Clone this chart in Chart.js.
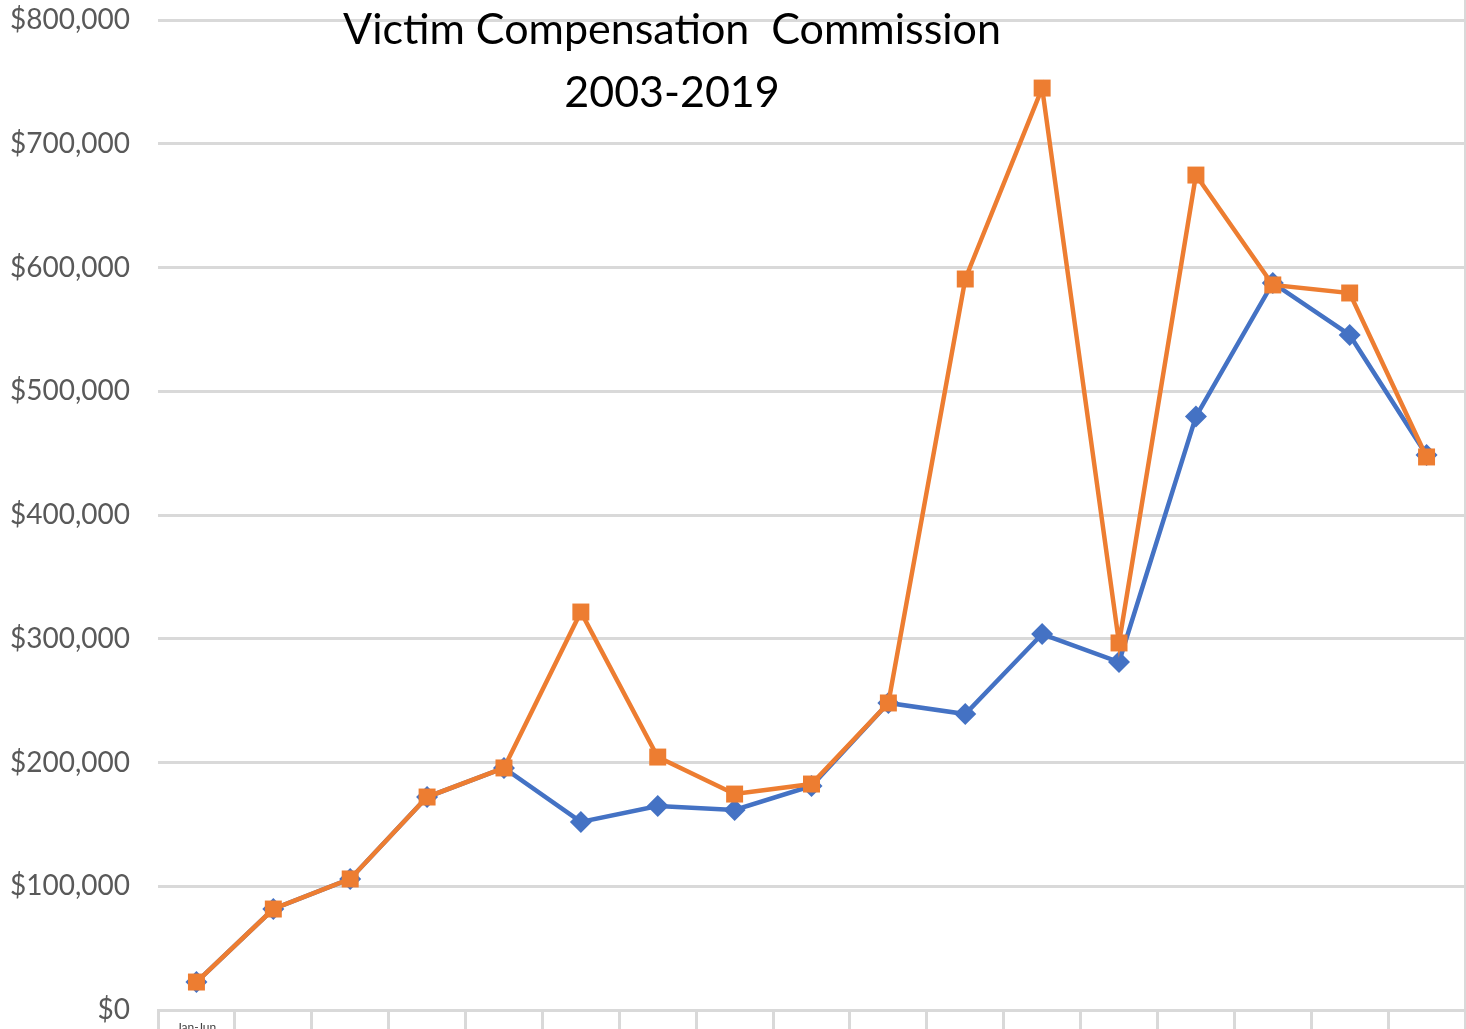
<!DOCTYPE html>
<html>
<head>
<meta charset="utf-8">
<title>Victim Compensation Commission 2003-2019</title>
<script src="https://cdn.jsdelivr.net/npm/chart.js@4.4.1/dist/chart.umd.min.js"></script>
<style>
  html, body { margin: 0; padding: 0; background: #fff; overflow: hidden; }
  #wrap { position: relative; width: 1466px; height: 1029px; }
  #wrap:after { content: ""; position: absolute; right: 0; top: 0; width: 2px; height: 1029px; background: #d9d9d9; }
</style>
</head>
<body>
<div id="wrap">
  <canvas id="vcc" width="1466" height="1029"></canvas>
</div>
<script>
var years = ['2003', '2004', '2005', '2006', '2007', '2008', '2009', '2010', '2011',
             '2012', '2013', '2014', '2015', '2016', '2017', '2018', '2019'];
var firstPeriod = 'Jan-Jun';

// blue series (diamonds)
var paid = [22600, 81600, 105900, 172100, 195600, 152000, 164800, 161600, 181000,
            248100, 239200, 303800, 281200, 479500, 587500, 545500, 448500];
// orange series (squares)
var total = [22600, 81600, 105900, 172100, 195600, 321600, 204400, 174500, 182600,
             248100, 590700, 745000, 296600, 674700, 585900, 579400, 446900];

var titleLines = ['Victim Compensation  Commission', '2003-2019'];

var labels = years.map(function(y, i) {
    return i === 0 ? [firstPeriod, y] : ['', y];
});

var titlePlugin = {
    id: 'insideTitle',
    afterDraw: function(chart) {
        var ctx = chart.ctx;
        ctx.save();
        ctx.fillStyle = '#000';
        ctx.font = '43px Lato';
        ctx.textAlign = 'center';
        ctx.textBaseline = 'middle';
        ctx.fillText(titleLines[0], 672, 30);
        ctx.fillText(titleLines[1], 672, 93);
        ctx.restore();
    }
};

new Chart(document.getElementById('vcc').getContext('2d'), {
    type: 'line',
    data: {
        labels: labels,
        datasets: [{
            label: 'Total',
            data: total,
            order: 0,
            borderColor: '#ed7d31',
            backgroundColor: '#ed7d31',
            borderWidth: 4.5,
            pointStyle: 'rect',
            pointRadius: 12,
            pointBorderWidth: 0,
            tension: 0
        }, {
            label: 'Paid',
            data: paid,
            order: 1,
            borderColor: '#4472c4',
            backgroundColor: '#4472c4',
            borderWidth: 4.5,
            pointStyle: 'rectRot',
            pointRadius: 11,
            pointBorderWidth: 0,
            tension: 0
        }]
    },
    options: {
        responsive: false,
        animation: false,
        devicePixelRatio: 1,
        layout: { autoPadding: false, padding: { top: 20, right: 1, left: 0, bottom: 0 } },
        plugins: {
            legend: { display: false },
            title: { display: false },
            tooltip: { enabled: false }
        },
        scales: {
            x: {
                offset: true,
                grid: {
                    offset: true,
                    drawOnChartArea: false,
                    drawTicks: true,
                    tickLength: 40,
                    color: '#d9d9d9',
                    lineWidth: 3
                },
                border: { display: true, color: '#d9d9d9', width: 3 },
                ticks: {
                    autoSkip: false,
                    maxRotation: 0,
                    padding: -30,
                    color: '#404040',
                    font: { family: 'Lato', size: 12 }
                },
                afterFit: function(scale) {
                    scale.height = 19;
                    scale.paddingLeft = 0;
                    scale.paddingRight = 0;
                }
            },
            y: {
                min: 0,
                max: 800000,
                grid: {
                    drawTicks: false,
                    color: '#d9d9d9',
                    lineWidth: 3
                },
                border: { display: false },
                ticks: {
                    stepSize: 100000,
                    padding: 28,
                    color: '#595959',
                    font: { family: 'Lato', size: 28 },
                    callback: function(v) { return '$' + v.toLocaleString('en-US'); }
                },
                afterFit: function(scale) {
                    scale.width = 158;
                    scale.paddingTop = 0;
                    scale.paddingBottom = 0;
                }
            }
        }
    },
    plugins: [titlePlugin]
});
</script>
</body>
</html>
